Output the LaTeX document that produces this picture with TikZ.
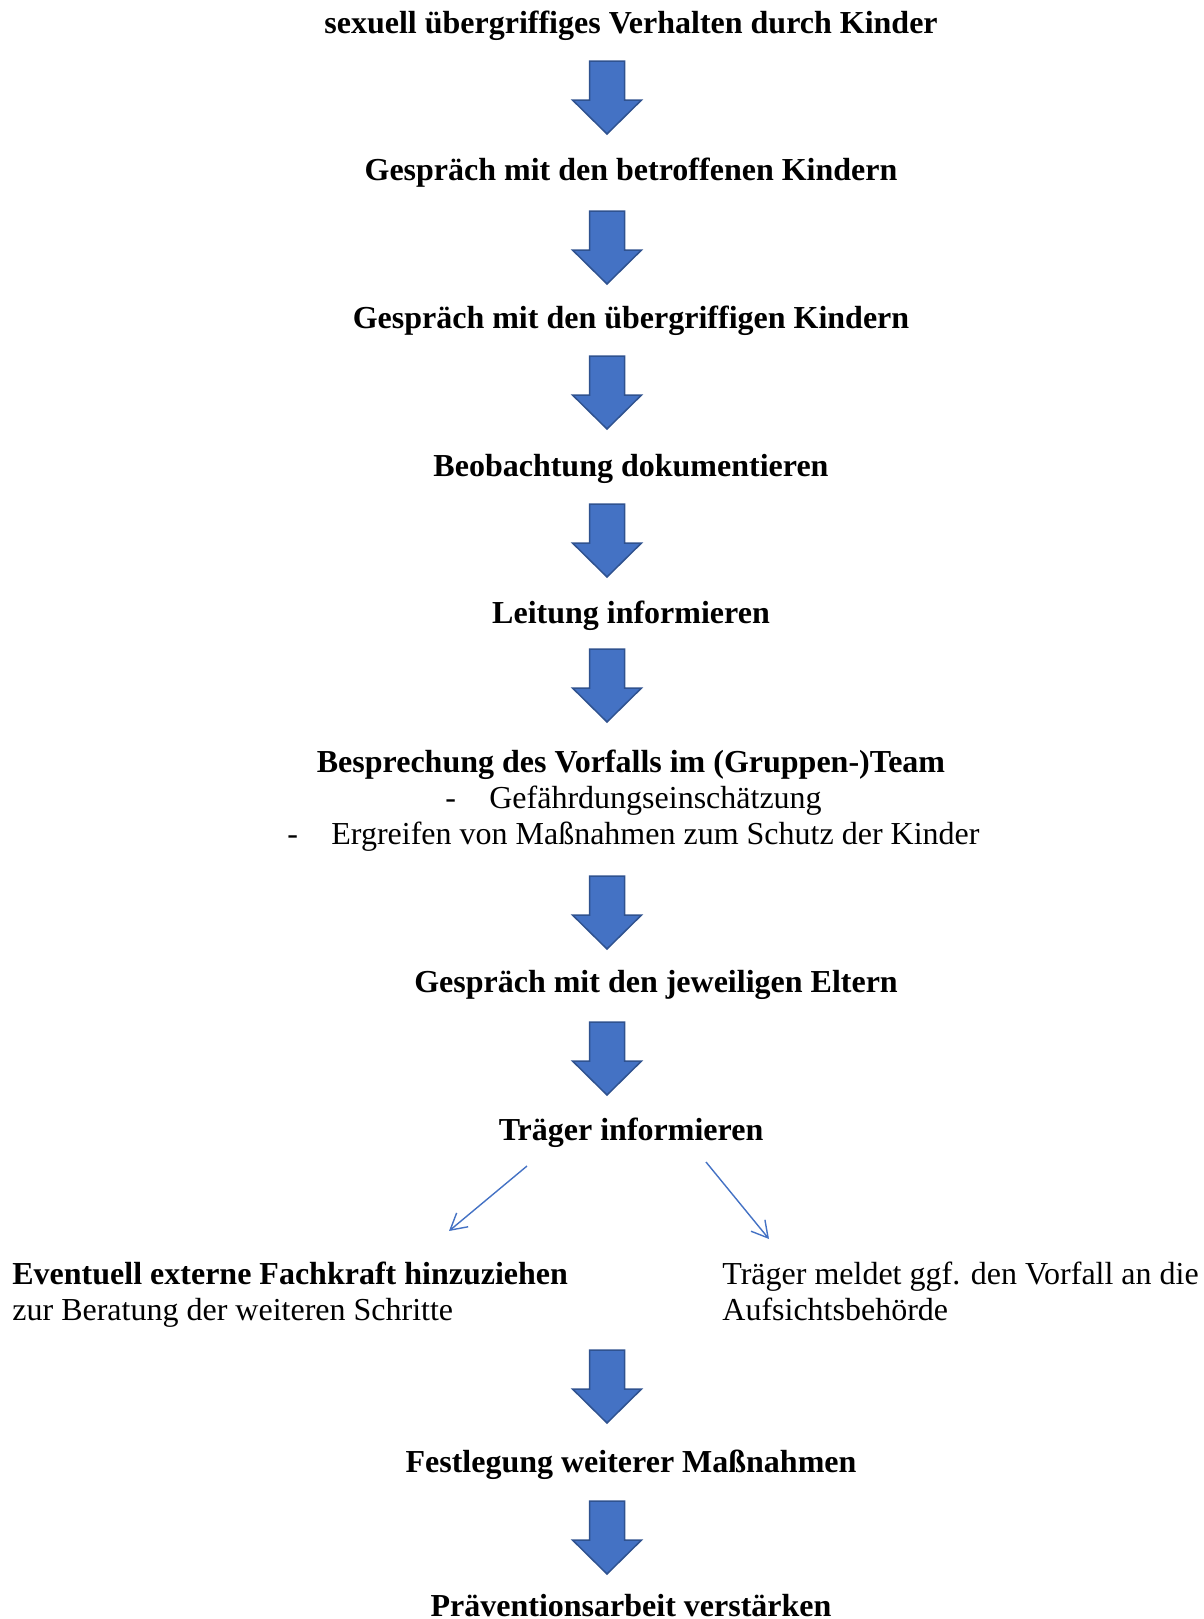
\documentclass[tikz,border=0pt]{standalone}
\usepackage{fontspec}
\setmainfont{Liberation Serif}
\usetikzlibrary{arrows.meta}

\definecolor{arrowfill}{HTML}{4472C4}
\definecolor{arrowline}{HTML}{2F528F}

\tikzset{
	stage/.style={anchor=base, inner sep=0pt, font=\fontsize{16}{18}\selectfont\bfseries},
	plain/.style={anchor=base west, inner sep=0pt, font=\fontsize{16}{18}\selectfont},
	thinarrow/.style={draw=arrowfill, line width=0.7pt, -{Straight Barb[length=8pt,width=9pt]}},
	blockarrow/.pic={\filldraw[draw=arrowline, fill=arrowfill, line width=0.75pt]
		(-17.5,0) -- (17.5,0) -- (17.5,39) -- (34.5,39) -- (0,73) -- (-34.5,39) -- (-17.5,39) -- cycle;}
}

\begin{document}
\begin{tikzpicture}[x=0.5pt, y=-0.5pt]
	\useasboundingbox (0,0) rectangle (1204,1619);
	% main steps
	\foreach \X/\Y/\T [count=\Z] in {631/33/sexuell übergriffiges Verhalten durch Kinder,
		631/180/Gespräch mit den betroffenen Kindern,
		631/328/Gespräch mit den übergriffigen Kindern,
		631/476/Beobachtung dokumentieren,
		631/623/Leitung informieren,
		631/772/Besprechung des Vorfalls im (Gruppen-)Team,
		656/992/Gespräch mit den jeweiligen Eltern,
		631/1140/Träger informieren,
		631/1472/Festlegung weiterer Maßnahmen,
		631/1616/Präventionsarbeit verstärken}
	{\node[stage] (s\Z) at (\X,\Y) {\T};}
	% list under s6
	\node[plain] (d1) at (445,808) {\makebox[22pt][l]{-}Gefährdungseinschätzung};
	\node[plain] (d2) at (287,844) {\makebox[22pt][l]{-}Ergreifen von Maßnahmen zum Schutz der Kinder};
	% two branches
	\node[plain, font=\fontsize{16}{18}\selectfont\bfseries] (ev1) at (12,1284) {Eventuell externe Fachkraft hinzuziehen};
	\node[plain] (ev2) at (12,1320) {zur Beratung der weiteren Schritte};
	\node[plain] (tm1) at (722,1284) {Träger meldet ggf. den Vorfall an die};
	\node[plain] (tm2) at (722,1320) {Aufsichtsbehörde};
	% block arrows
	\foreach \Y in {61, 211, 356, 504, 649, 876, 1022, 1350, 1501}
	{\pic at (607,\Y) {blockarrow};}
	% thin arrows
	\coordinate (la) at (527,1166);
	\coordinate (lb) at (449,1231);
	\coordinate (ra) at (706,1162);
	\coordinate (rb) at (769,1239);
	\draw[thinarrow] (la) -- (lb);
	\draw[thinarrow] (ra) -- (rb);
\end{tikzpicture}
\end{document}
